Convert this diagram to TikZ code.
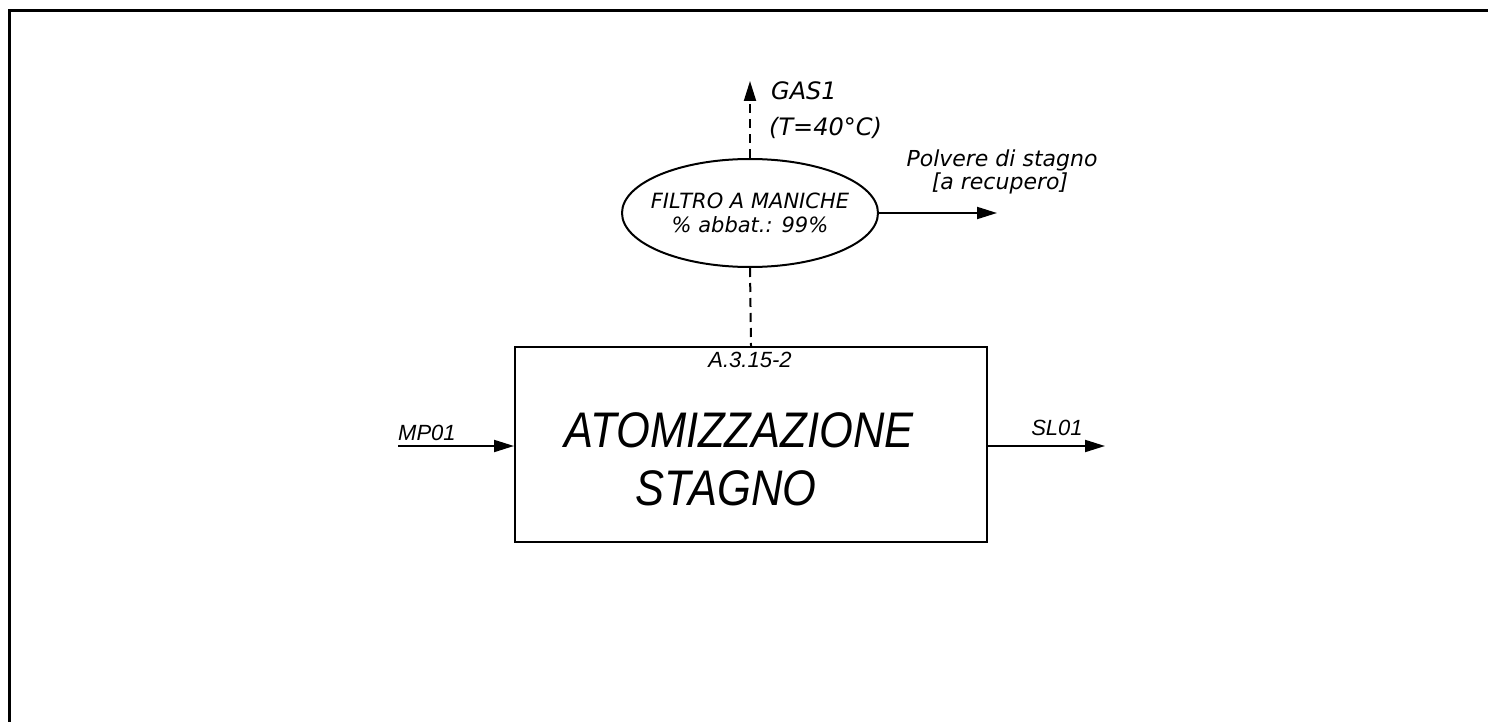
\documentclass[tikz,border=0pt]{standalone}
\usepackage{fontspec}
\setmainfont{Liberation Sans}
\newfontfamily\cadfont{DejaVu Sans}
\usetikzlibrary{arrows.meta,shapes.geometric}
\tikzset{
  ln/.style={line width=2pt},
  tip/.style={-{Triangle[length=20pt,width=12pt]}},
  arr/.style={ln,tip},
  dsh/.style={ln,dash pattern=on 9pt off 6pt},
  cad/.style={font=\cadfont\itshape\fontsize{22}{26}\selectfont,inner sep=0pt},
  cadl/.style={font=\cadfont\itshape\fontsize{24}{28}\selectfont,inner sep=0pt},
  cads/.style={font=\cadfont\itshape\fontsize{21}{24}\selectfont,inner sep=0pt},
  nar/.style={font=\itshape\fontsize{22}{26}\selectfont,inner sep=0pt},
  big/.style={font=\itshape\fontsize{50}{58}\selectfont,inner sep=0pt,xscale=0.87}
}
\begin{document}
\begin{tikzpicture}[x=1pt,y=-1pt]
\useasboundingbox (0,0) rectangle (1488,722);
% frame
\draw[line width=3pt] (1488,11) -- (9,11) -- (9,722);
% main box
\node[draw,ln,minimum width=472pt,minimum height=195pt,inner sep=0pt] (box) at (751,444.5) {};
\node[nar,anchor=base] (code) at (750,367) {A.3.15-2};
\node[big,anchor=base] (t1) at (739,447) {ATOMIZZAZIONE};
\node[big,anchor=base] (t2) at (726,505) {STAGNO};
% filter ellipse
\node[draw,ln,ellipse,minimum width=256pt,minimum height=108pt,inner sep=0pt] (filt) at (750,213) {};
\node[cads,anchor=base] (f1) at (750,209) {FILTRO A MANICHE};
\node[cads,anchor=base] (f2) at (750,233) {\% abbat.: 99\%};
% coordinates
\coordinate (mp) at (398,446);
\coordinate (sl) at (1105,446);
\coordinate (gas) at (750,81);
\coordinate (pol) at (997,213);
% connectors
\draw[arr] (mp) -- (box.west |- mp);
\draw[arr] (box.east |- sl) -- (sl);
\draw[dsh] (filt.south) -- (box.north);
\draw[dsh,tip] (filt.north) -- (gas);
\draw[arr] (filt.east) -- (pol);
% labels
\node[nar,anchor=base west] (lmp) at (398,440) {MP01};
\node[nar,anchor=base] (lsl) at (1057,435) {SL01};
\node[cadl,anchor=base west] (lg1) at (771,100) {GAS1};
\node[cadl,anchor=base west] (lg2) at (769,136) {(T=40°C)};
\node[cad,anchor=base] (lp1) at (1002,167) {Polvere di stagno};
\node[cad,anchor=base] (lp2) at (1000,190) {[a recupero]};
\end{tikzpicture}
\end{document}
